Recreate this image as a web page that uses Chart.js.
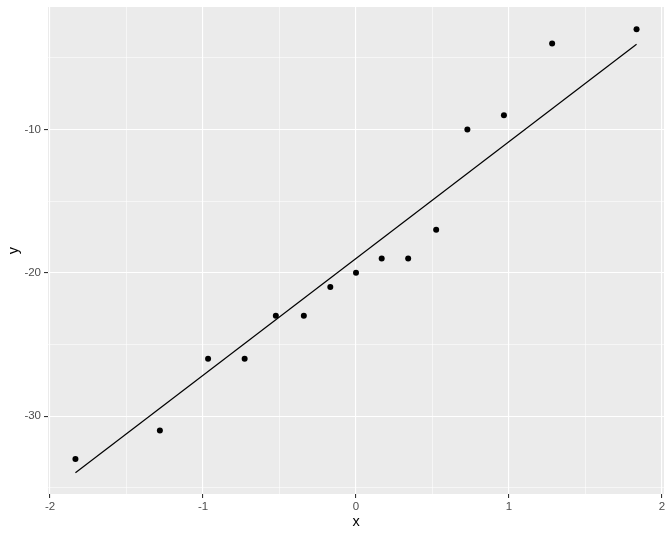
<!DOCTYPE html>
<html>
<head>
<meta charset="utf-8">
<script src="https://cdn.jsdelivr.net/npm/chart.js@4/dist/chart.umd.min.js"></script>
<style>
  html, body { margin: 0; padding: 0; background: #ffffff; }
  #wrap { width: 672px; height: 537px; position: relative; }
</style>
</head>
<body>
<div id="wrap"><canvas id="c" width="672" height="537"></canvas></div>
<script>
// Theoretical quantiles (x) and sample values (y)
const xValues = [-1.834, -1.282, -0.967, -0.728, -0.524, -0.341, -0.168, 0, 0.168, 0.341, 0.524, 0.728, 0.967, 1.282, 1.834];
const yValues = [-33, -31, -26, -26, -23, -23, -21, -20, -19, -19, -17, -10, -9, -4, -3];
// Reference line end points
const lineX = [-1.834, 1.834];
const lineY = [-33.95, -4.05];
// Axis ticks
const xMajorTicks = [-2, -1, 0, 1, 2];
const xMinorTicks = [-1.5, -0.5, 0.5, 1.5];
const yMajorTicks = [-30, -20, -10];
const yMinorTicks = [-35, -25, -15, -5];
const xRange = [-2.0134, 2.0134];
const yRange = [-35.44, -1.45];

const points = xValues.map((x, i) => ({ x: x, y: yValues[i] }));
const linePts = lineX.map((x, i) => ({ x: x, y: lineY[i] }));

const panelBg = {
  id: 'panelBg',
  beforeDraw(chart) {
    const { ctx, chartArea: a } = chart;
    ctx.save();
    ctx.fillStyle = '#EBEBEB';
    ctx.fillRect(a.left, a.top, a.right - a.left, a.bottom - a.top);
    ctx.restore();
  }
};

function isMajor(list, v) {
  return list.some(t => Math.abs(t - v) < 1e-9);
}

const tickFont = { family: 'Liberation Sans, Arial, sans-serif', size: 11.5 };
const titleFont = { family: 'Liberation Sans, Arial, sans-serif', size: 14.5 };

new Chart(document.getElementById('c'), {
  type: 'scatter',
  data: {
    datasets: [
      {
        type: 'line',
        data: linePts,
        borderColor: '#000000',
        borderWidth: 1.2,
        pointRadius: 0,
        fill: false,
        tension: 0
      },
      {
        data: points,
        backgroundColor: '#000000',
        borderColor: '#000000',
        pointRadius: 3,
        borderWidth: 0
      }
    ]
  },
  plugins: [panelBg],
  options: {
    responsive: false,
    animation: false,
    events: [],
    layout: { padding: { top: 7, right: 8, left: 0, bottom: 0 } },
    plugins: { legend: { display: false }, tooltip: { enabled: false } },
    scales: {
      x: {
        type: 'linear',
        min: xRange[0],
        max: xRange[1],
        afterBuildTicks(scale) {
          scale.ticks = xMajorTicks.concat(xMinorTicks).sort((a, b) => a - b).map(v => ({ value: v }));
        },
        afterFit(scale) { scale.height = 43; scale.paddingLeft = 0; scale.paddingRight = 0; },
        border: { display: false },
        grid: {
          color: '#FFFFFF',
          lineWidth: ctx => isMajor(xMajorTicks, ctx.tick.value) ? 1.1 : 0.55,
          tickColor: ctx => isMajor(xMajorTicks, ctx.tick.value) ? '#333333' : 'rgba(0,0,0,0)',
          tickLength: 4,
          tickWidth: 1.1
        },
        ticks: {
          autoSkip: false,
          maxRotation: 0,
          padding: 2,
          color: '#4D4D4D',
          font: tickFont,
          callback: v => isMajor(xMajorTicks, v) ? String(v) : ''
        },
        title: {
          display: true,
          text: 'x',
          color: '#000000',
          font: titleFont,
          padding: { top: 0, bottom: 6 }
        }
      },
      y: {
        type: 'linear',
        min: yRange[0],
        max: yRange[1],
        afterBuildTicks(scale) {
          scale.ticks = yMajorTicks.concat(yMinorTicks).sort((a, b) => a - b).map(v => ({ value: v }));
        },
        afterFit(scale) { scale.width = 48; scale.paddingTop = 0; scale.paddingBottom = 0; },
        border: { display: false },
        grid: {
          color: '#FFFFFF',
          lineWidth: ctx => isMajor(yMajorTicks, ctx.tick.value) ? 1.1 : 0.55,
          tickColor: ctx => isMajor(yMajorTicks, ctx.tick.value) ? '#333333' : 'rgba(0,0,0,0)',
          tickLength: 4,
          tickWidth: 1.1
        },
        ticks: {
          autoSkip: false,
          padding: 3,
          color: '#4D4D4D',
          font: tickFont,
          callback: v => isMajor(yMajorTicks, v) ? String(v) : ''
        },
        title: {
          display: true,
          text: 'y',
          color: '#000000',
          font: titleFont,
          padding: { top: 5, bottom: 0 }
        }
      }
    }
  }
});
</script>
</body>
</html>
